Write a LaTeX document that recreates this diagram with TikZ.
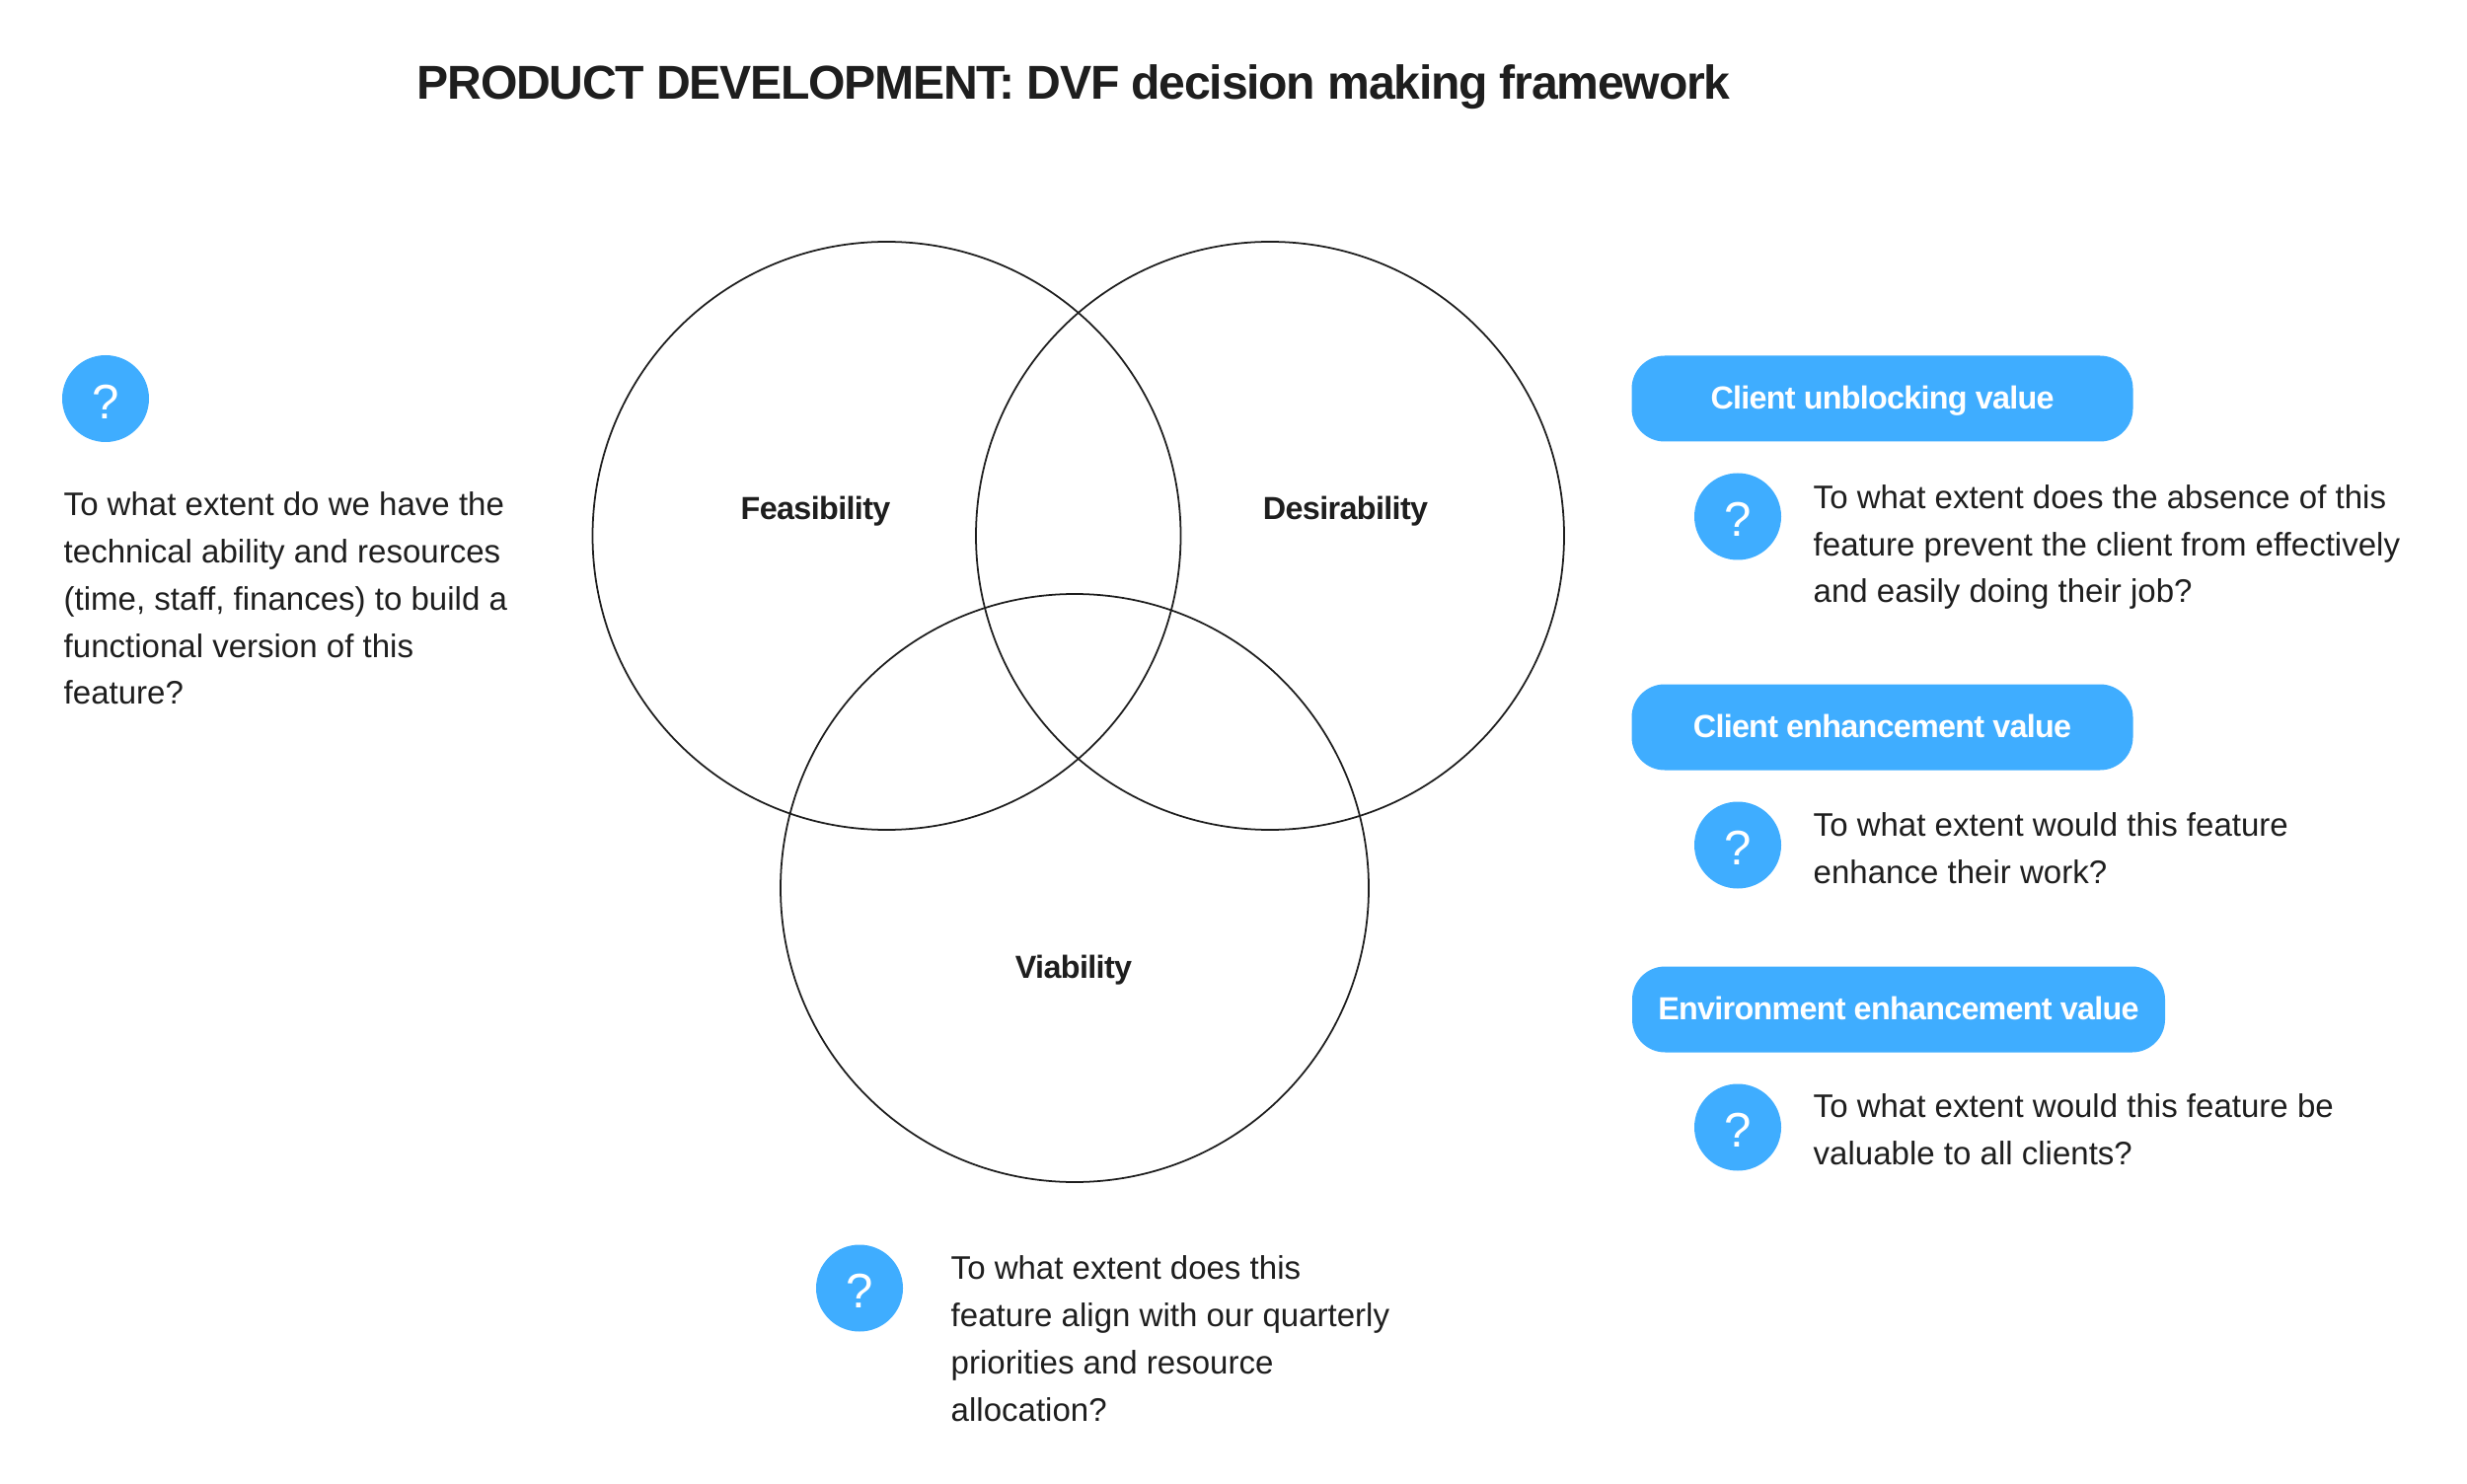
\documentclass[tikz,border=0pt]{standalone}
\usepackage{fontspec}
\setmainfont{Liberation Sans}
\usepackage{xcolor}
\definecolor{dvf-blue}{HTML}{3FADFF}
\definecolor{dvf-ink}{HTML}{1E1E1E}
\usepackage{tikz}
\usetikzlibrary{
  shapes.geometric,
  positioning
}

\begin{document}
\begin{tikzpicture}[
    venn/.style={
      circle,
      draw=dvf-ink,
      line width=0.5pt,
      minimum size=5.96cm,
      inner sep=0pt
    },
    lens/.style={
      font=\fontsize{9.2}{13.6}\selectfont\bfseries\addfontfeature{LetterSpace=-2},
      text=dvf-ink
    },
    quest/.style={
      circle,
      fill=dvf-blue,
      minimum size=0.88cm,
      inner sep=0pt,
      font=\fontsize{14}{16}\selectfont,
      text height=11.6pt,
      text=white
    },
    pill/.style={
      rectangle,
      fill=dvf-blue,
      rounded corners=9.5pt,
      minimum height=0.87cm,
      inner sep=0pt,
      font=\fontsize{9.2}{13.6}\selectfont\bfseries\addfontfeature{LetterSpace=-2.3},
      text height=8.2pt,
      text depth=2pt,
      text=white
    },
    prose/.style={
      anchor=west,
      inner sep=0pt,
      font=\fontsize{9.4}{13.6}\selectfont,
      text=dvf-ink,
      align=left
    }
  ]
    \useasboundingbox (0, 0) rectangle (25, 15.03);

    \node[anchor=center, inner sep=0pt, font=\fontsize{13.7}{17}\selectfont\bfseries\addfontfeature{LetterSpace=-2.6}, text=dvf-ink]
      (title) at (10.88, 14.15) {PRODUCT DEVELOPMENT: DVF decision making framework};

    % venn circles
    \node[venn] (feasibility) at (8.985, 9.6)  {};
    \node[venn] (desirability) at (12.87, 9.6) {};
    \node[venn] (viability) at (10.89, 6.03) {};
    \node[lens] (feasLabel) at (8.265, 9.85)  {Feasibility};
    \node[lens] (desLabel)  at (13.635, 9.85) {Desirability};
    \node[lens] (viaLabel)  at (10.88, 5.2) {Viability};

    % left question
    \node[quest] (feasQ) at (1.07, 10.99) {?};
    \node[prose] (feasText) at (0.64, 8.965) {To what extent do we have the\\technical ability and resources\\(time, staff, finances) to build a\\functional version of this\\feature?};

    % bottom question
    \node[quest] (viaQ) at (8.71, 1.975) {?};
    \node[prose] (viaText) at (9.63, 1.465) {To what extent does this\\feature align with our quarterly\\priorities and resource\\allocation?};

    % right column
    \node[pill, minimum width=5.08cm] (unblock) at (19.075, 10.99) {Client unblocking value};
    \node[quest] (unblockQ) at (17.61, 9.795) {?};
    \node[prose] (unblockText) at (18.37, 9.485) {To what extent does the absence of this\\feature prevent the client from effectively\\and easily doing their job?};

    \node[pill, minimum width=5.08cm] (enhance) at (19.075, 7.66) {Client enhancement value};
    \node[quest] (enhanceQ) at (17.61, 6.465) {?};
    \node[prose] (enhanceText) at (18.37, 6.435) {To what extent would this feature\\enhance their work?};

    \node[pill, minimum width=5.4cm] (environ) at (19.24, 4.8) {Environment enhancement value};
    \node[quest] (environQ) at (17.61, 3.605) {?};
    \node[prose] (environText) at (18.37, 3.585) {To what extent would this feature be\\valuable to all clients?};
  \end{tikzpicture}
\end{document}
